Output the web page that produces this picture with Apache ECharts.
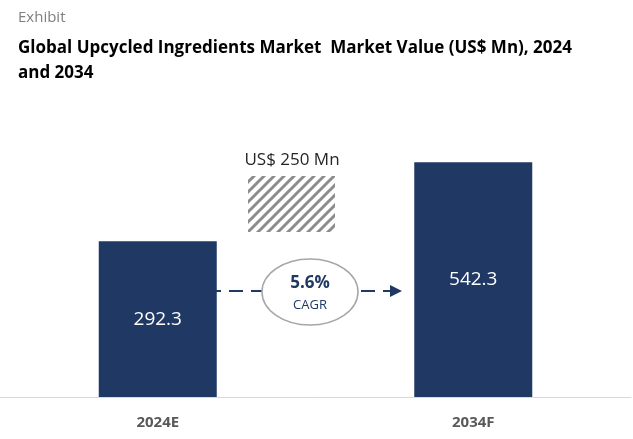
<!DOCTYPE html>
<html><head><meta charset="utf-8">
<script src="https://cdn.jsdelivr.net/npm/echarts@6/dist/echarts.min.js"></script>
<style>html,body{margin:0;padding:0;background:#fff}#c{width:633px;height:439px}</style>
</head><body><div id="c"></div>
<script>
const categories = ['2024E', '2034F'];
const values = [292.3, 542.3];
const cagrText = '5.6%';
const diffText = 'US$ 250 Mn';

const pc = document.createElement('canvas');
pc.width = 10; pc.height = 10;
const g = pc.getContext('2d');
g.fillStyle = '#fff'; g.fillRect(0,0,10,10);
g.strokeStyle = '#8c8c8c'; g.lineWidth = 3;
g.beginPath();
g.moveTo(-2,12); g.lineTo(12,-2);
g.moveTo(-7,7); g.lineTo(7,-7);
g.moveTo(3,17); g.lineTo(17,3);
g.stroke();

const chart = echarts.init(document.getElementById('c'));
chart.setOption({
  animation: false,
  grid: { left: -16, right: 2, top: 144, bottom: 42 },
  xAxis: {
    type: 'category', data: categories,
    axisLine: { onZero: false, lineStyle: { color: '#d9d9d9', width: 1 } },
    axisTick: { show: false },
    axisLabel: { color: '#595959', fontWeight: 'bold', fontSize: 15, margin: 18, fontFamily: 'Open Sans' }
  },
  yAxis: { type: 'value', min: -200, max: 600, startValue: -200, show: false, splitLine: { show: false } },
  series: [{
    type: 'bar', data: values, barWidth: 118,
    itemStyle: { color: '#1f3864' },
    label: { show: true, position: 'inside', color: '#fff', fontSize: 19, fontFamily: 'Open Sans' }
  }],
  graphic: [
    { type: 'text', left: 18, top: 10, style: { text: 'Exhibit', fill: '#7f7f7f', fontSize: 15, fontFamily: 'Open Sans' } },
    { type: 'text', left: 18, top: 36, style: { text: 'Global Upcycled Ingredients Market  Market Value (US$ Mn), 2024\nand 2034', fill: '#000', fontSize: 17, fontWeight: 'bold', lineHeight: 25, fontFamily: 'Open Sans' } },
    { type: 'text', x: 292, y: 160, style: { text: diffText, fill: '#262626', fontSize: 17, align: 'center', verticalAlign: 'middle', fontFamily: 'Open Sans' } },
    { type: 'rect', shape: { x: 248, y: 176, width: 87, height: 56 }, style: { fill: { image: pc, repeat: 'repeat' } } },
    { type: 'line', shape: { x1: 207, y1: 291, x2: 396, y2: 291 }, style: { stroke: '#1f3864', lineWidth: 2, lineDash: [14, 8] } },
    { type: 'polygon', shape: { points: [[390, 285], [402, 291], [390, 297]] }, style: { fill: '#1f3864' } },
    { type: 'ellipse', shape: { cx: 310, cy: 292, rx: 48, ry: 33 }, style: { fill: '#fff', stroke: '#a6a6a6', lineWidth: 1.5 } },
    { type: 'text', x: 310, y: 283, style: { text: cagrText, fill: '#1f3864', fontSize: 17, fontWeight: 'bold', align: 'center', verticalAlign: 'middle', fontFamily: 'Open Sans' } },
    { type: 'text', x: 310, y: 305, style: { text: 'CAGR', fill: '#1f3864', fontSize: 13, align: 'center', verticalAlign: 'middle', fontFamily: 'Open Sans' } }
  ]
});
</script></body></html>
